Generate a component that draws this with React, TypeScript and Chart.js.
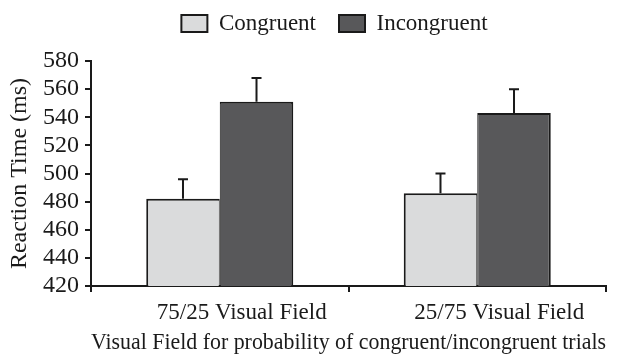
import React, { useEffect, useRef } from "react";
import { Chart, registerables } from "chart.js";

Chart.register(...registerables);

const categories = ["75/25 Visual Field", "25/75 Visual Field"];
const seriesNames = ["Congruent", "Incongruent"];
const congruentRT = [482, 486];
const incongruentRT = [551, 543];
const congruentErr = [14, 14];
const incongruentErr = [17, 17];
const yTicksMin = 420;
const yTicksMax = 580;
const yTickStep = 20;

const ERRORS = [congruentErr, incongruentErr];
const INK = "#1a1a1a";

const errorBarPlugin = {
  id: "errorBars",
  afterDatasetsDraw(chart: any) {
    const ctx = chart.ctx;
    const yScale = chart.scales.y;
    chart.data.datasets.forEach((ds: any, di: number) => {
      const meta = chart.getDatasetMeta(di);
      meta.data.forEach((bar: any, i: number) => {
        const v = ds.data[i];
        const top = yScale.getPixelForValue(v + ERRORS[di][i]);
        ctx.save();
        ctx.strokeStyle = INK;
        ctx.lineWidth = 2;
        ctx.beginPath();
        ctx.moveTo(bar.x, bar.y);
        ctx.lineTo(bar.x, top);
        ctx.moveTo(bar.x - 5, top);
        ctx.lineTo(bar.x + 5, top);
        ctx.stroke();
        ctx.restore();
      });
    });
  },
};

const legendShift = {
  id: "legendShift",
  beforeInit(chart: any) {
    const orig = chart.legend.fit;
    chart.legend.fit = function () {
      orig.call(this);
      this.height = 61;
    };
  },
  afterLayout(chart: any) {
    const lg = chart.legend;
    lg.left += 31.5;
    lg.right += 31.5;
    lg.top -= 11;
    lg.bottom -= 11;
  },
};

export default function App() {
  const ref = useRef<HTMLCanvasElement>(null);
  useEffect(() => {
    if (!ref.current) return;
    Chart.defaults.font.family = "'Liberation Serif', 'Times New Roman', serif";
    Chart.defaults.color = INK;
    const chart = new Chart(ref.current, {
      type: "bar",
      data: {
        labels: categories,
        datasets: [
          {
            label: seriesNames[0],
            data: congruentRT,
            backgroundColor: "#dadbdc",
            borderColor: INK,
            borderWidth: { top: 2, left: 2, right: 1, bottom: 0 },
            categoryPercentage: 0.571,
            barPercentage: 1,
          },
          {
            label: seriesNames[1],
            data: incongruentRT,
            backgroundColor: "#58585a",
            borderColor: INK,
            borderWidth: { top: 2, left: 1, right: 2, bottom: 0 },
            categoryPercentage: 0.571,
            barPercentage: 1,
          },
        ],
      },
      options: {
        animation: false,
        responsive: true,
        maintainAspectRatio: false,
        layout: { padding: { left: 0, right: 16, top: 0, bottom: 0 } },
        plugins: {
          tooltip: { enabled: false },
          legend: {
            position: "top",
            labels: {
              boxWidth: 26,
              boxHeight: 17,
              padding: 23,
              font: { size: 23 },
              color: INK,
              generateLabels: (c: any) =>
                Chart.defaults.plugins.legend.labels
                  .generateLabels(c)
                  .map((l: any) => ({ ...l, lineWidth: 2, strokeStyle: INK })),
            },
          },
        },
        scales: {
          x: {
            afterFit: (s: any) => {
              s.height = 72;
            },
            grid: {
              offset: true,
              drawOnChartArea: false,
              drawTicks: true,
              tickLength: 6,
              tickColor: INK,
              lineWidth: 2,
              color: INK,
            },
            border: { display: true, color: INK, width: 2 },
            ticks: { font: { size: 23 }, color: INK, padding: 7, labelOffset: 22 },
            title: {
              display: true,
              text: "Visual Field for probability of congruent/incongruent trials",
              font: { size: 23 },
              color: INK,
              padding: { top: 0, bottom: 1 },
            },
          },
          y: {
            min: yTicksMin,
            max: yTicksMax,
            afterFit: (s: any) => {
              s.width = 91;
            },
            grid: {
              drawOnChartArea: false,
              drawTicks: true,
              tickLength: 6,
              tickColor: INK,
              lineWidth: 2,
              color: INK,
            },
            border: { display: true, color: INK, width: 2 },
            ticks: {
              stepSize: yTickStep,
              autoSkip: false,
              font: { size: 24 },
              color: INK,
              padding: 6,
            },
            title: {
              display: true,
              text: "Reaction Time (ms)",
              font: { size: 24 },
              color: INK,
              padding: { top: 5, bottom: 0 },
            },
          },
        },
      },
      plugins: [errorBarPlugin, legendShift],
    });
    return () => chart.destroy();
  }, []);
  return (
    <div style={{ position: "fixed", left: 0, top: 0, width: 622, height: 358, background: "#fff" }}>
      <canvas ref={ref} />
    </div>
  );
}
